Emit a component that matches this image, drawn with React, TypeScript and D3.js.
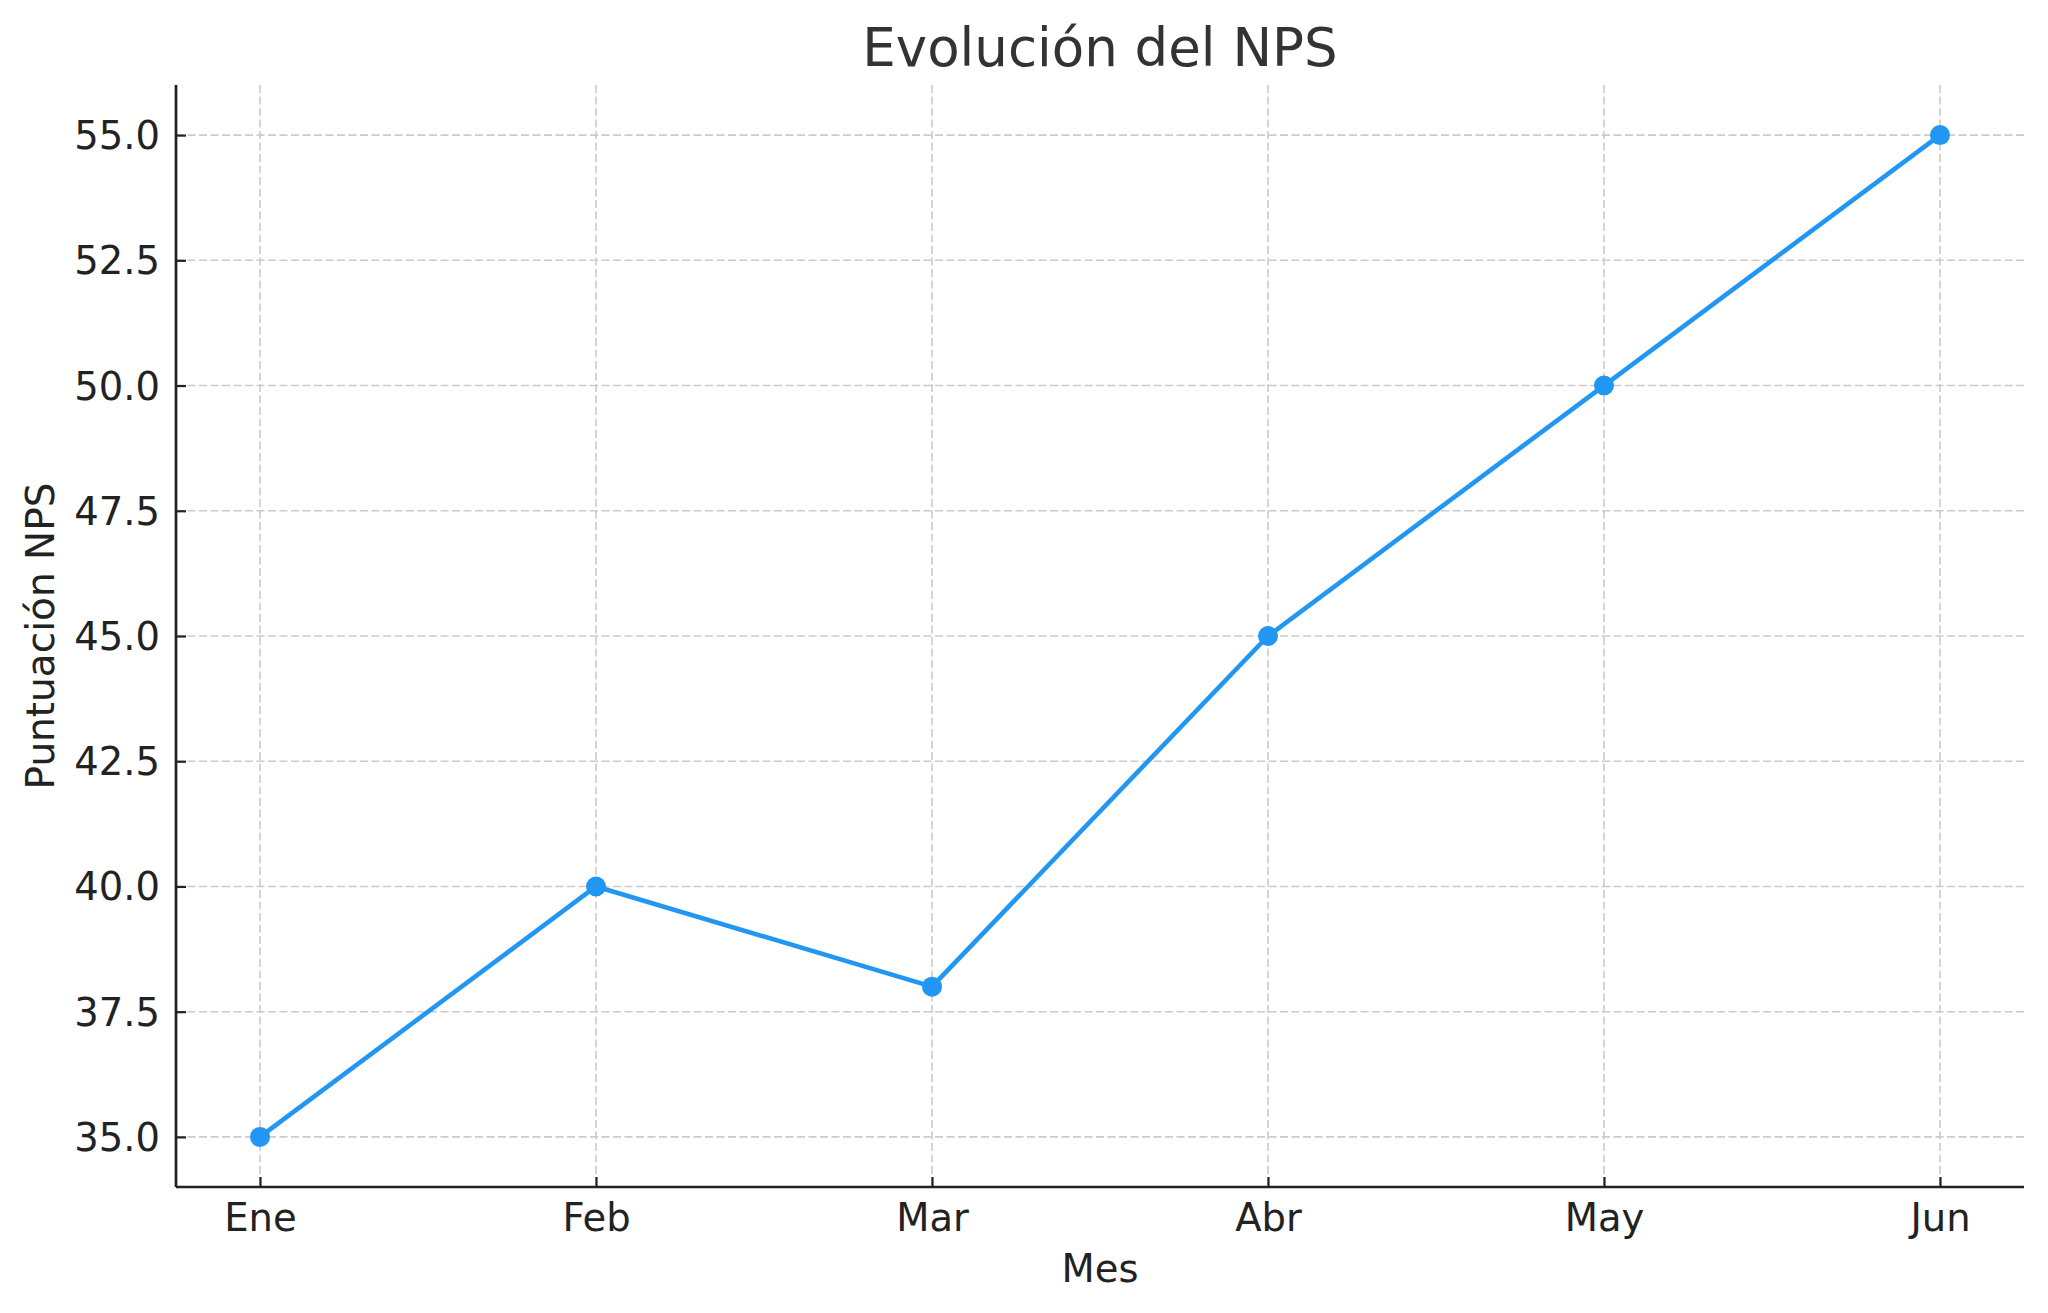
import React, { useEffect, useRef } from 'react';
import * as d3 from 'd3';

const months = ['Ene', 'Feb', 'Mar', 'Abr', 'May', 'Jun'];
const npsValues = [35, 40, 38, 45, 50, 55];
const yTicks = [35, 37.5, 40, 42.5, 45, 47.5, 50, 52.5, 55];

export default function App() {
    const ref = useRef<SVGSVGElement | null>(null);
    useEffect(() => {
        const svg = d3.select(ref.current);
        svg.selectAll('*').remove();
        const width = 2048, height = 1313;
        const margin = { top: 85, right: 24, bottom: 126, left: 176 };
        const font = 'DejaVu Sans, sans-serif';

        const x = d3.scaleLinear().domain([-0.25, months.length - 1 + 0.25]).range([margin.left, width - margin.right]);
        const y = d3.scaleLinear().domain([34, 56]).range([height - margin.bottom, margin.top]);

        svg.attr('viewBox', `0 0 ${width} ${height}`);
        svg.append('rect').attr('width', width).attr('height', height).attr('fill', '#fff');

        // grid
        const grid = svg.append('g').attr('stroke', '#cbcbcb').attr('stroke-width', 1.6).attr('stroke-dasharray', '8,3.5');
        grid.selectAll('line.gx').data(months).join('line')
            .attr('x1', (_, i) => x(i)).attr('x2', (_, i) => x(i))
            .attr('y1', y.range()[1]).attr('y2', y.range()[0]);
        grid.selectAll('line.gy').data(yTicks).join('line')
            .attr('x1', x.range()[0]).attr('x2', x.range()[1])
            .attr('y1', d => y(d)).attr('y2', d => y(d));

        // axes
        const xAxis = svg.append('g').attr('transform', `translate(0,${y.range()[0]})`)
            .call(d3.axisBottom(x).tickValues(d3.range(months.length)).tickFormat(i => months[+i]).tickSizeInner(-10).tickSizeOuter(0).tickPadding(16));
        const yAxis = svg.append('g').attr('transform', `translate(${x.range()[0]},0)`)
            .call(d3.axisLeft(y).tickValues(yTicks).tickFormat(d3.format('.1f')).tickSizeInner(-10).tickSizeOuter(0).tickPadding(16));
        [xAxis, yAxis].forEach(a => {
            a.select('.domain').attr('stroke', '#222').attr('stroke-width', 2.7);
            a.selectAll('.tick line').attr('stroke', '#222').attr('stroke-width', 2.2);
            a.selectAll('.tick text').attr('fill', '#222').attr('font-family', font).attr('font-size', 38.5);
        });
        xAxis.select('.domain').attr('d', `M${x.range()[0]},0H${x.range()[1]}`);
        yAxis.select('.domain').attr('d', `M0,${y.range()[0]}V${y.range()[1]}`);
        xAxis.selectAll('.tick text').attr('dy', null).attr('y', 44).attr('dominant-baseline', 'alphabetic');
        yAxis.selectAll('.tick text').attr('dy', '0.35em');

        // line + markers
        const line = d3.line<number>().x((_, i) => x(i)).y(d => y(d));
        svg.append('path').datum(npsValues).attr('d', line).attr('fill', 'none')
            .attr('stroke', '#2196f3').attr('stroke-width', 4.6).attr('stroke-linejoin', 'round');
        svg.selectAll('circle.pt').data(npsValues).join('circle')
            .attr('cx', (_, i) => x(i)).attr('cy', d => y(d)).attr('r', 10).attr('fill', '#2196f3');

        // titles
        const cx = (x.range()[0] + x.range()[1]) / 2;
        svg.append('text').attr('x', cx).attr('y', 66).attr('text-anchor', 'middle')
            .attr('font-family', font).attr('font-size', 53).attr('fill', '#333').text('Evolución del NPS');
        svg.append('text').attr('x', cx).attr('y', 1282).attr('text-anchor', 'middle')
            .attr('font-family', font).attr('font-size', 38.5).attr('fill', '#222').text('Mes');
        const cy = (y.range()[0] + y.range()[1]) / 2;
        svg.append('text').attr('transform', `translate(54,${cy}) rotate(-90)`).attr('text-anchor', 'middle')
            .attr('font-family', font).attr('font-size', 39).attr('fill', '#222').text('Puntuación NPS');
    }, []);
    return <svg ref={ref} width={2048} height={1313} style={{ position: 'absolute', top: 0, left: 0, display: 'block' }} />;
}
